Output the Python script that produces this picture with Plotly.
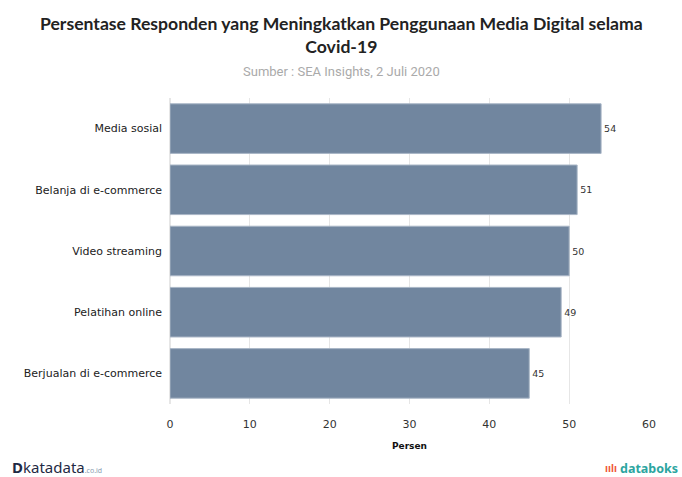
import plotly.graph_objects as go

categories = ["Media sosial", "Belanja di e-commerce", "Video streaming", "Pelatihan online", "Berjualan di e-commerce"]
values = [54, 51, 50, 49, 45]
tick_vals = [0, 10, 20, 30, 40, 50, 60]

fig = go.Figure()
fig.add_trace(go.Bar(
    y=categories, x=values, orientation="h",
    marker=dict(color="#71869f", line=dict(color="#a9b6c6", width=1)),
    text=[str(v) for v in values], textposition="outside",
    textfont=dict(family="DejaVu Sans", size=9.5, color="#333"),
    cliponaxis=False,
))

fig.update_layout(
    width=682, height=477,
    margin=dict(l=170, r=33, t=98, b=73),
    paper_bgcolor="white", plot_bgcolor="white",
    bargap=0.19,
    showlegend=False,
    xaxis=dict(
        range=[0, 60], tickvals=tick_vals, showgrid=True, gridcolor="#e6e6e6", gridwidth=1,
        zeroline=True, zerolinecolor="#e6e6e6",
        tickfont=dict(family="DejaVu Sans", size=11, color="#333"),
        ticks="outside", ticklen=10, tickcolor="rgba(0,0,0,0)",
        title=dict(text="<b>Persen</b>", font=dict(family="DejaVu Sans", size=9, color="#111"), standoff=12),
        automargin=False, fixedrange=True,
    ),
    yaxis=dict(
        autorange="reversed", showgrid=False, ticks="",
        tickfont=dict(family="DejaVu Sans", size=11, color="#222"),
        ticksuffix="  ", automargin=False, fixedrange=True,
    ),
    annotations=[
        dict(text="<b>Persentase Responden yang Meningkatkan Penggunaan Media Digital selama<br>Covid-19</b>",
             xref="paper", yref="paper", x=0.357, y=1.207, xanchor="center", yanchor="middle",
             showarrow=False, align="center",
             font=dict(family="Lato", size=17.6, color="#222")),
        dict(text="Sumber : SEA Insights, 2 Juli 2020", xref="paper", yref="paper", x=0.357, y=1.085,
             xanchor="center", yanchor="middle", showarrow=False,
             font=dict(family="Roboto", size=13, color="#aaaaaa")),
        dict(text="<b>D</b>katadata<span style='font-size:7px;color:#8a9bb0'>.co.id</span>",
             xref="paper", yref="paper", x=-0.334, y=-0.205, xanchor="left", yanchor="middle",
             showarrow=False, font=dict(family="Noto Sans", size=15, color="#1f2a44")),
        dict(text="<b>databoks</b>", xref="paper", yref="paper", x=1.065, y=-0.21,
             xanchor="right", yanchor="middle", showarrow=False,
             font=dict(family="Noto Sans", size=12.5, color="#2ca5a0")),
        dict(text="<b>ıılı</b>", xref="paper", yref="paper", x=0.938, y=-0.21,
             xanchor="right", yanchor="middle", showarrow=False,
             font=dict(family="Noto Sans", size=10, color="#ef5a3c")),
    ],
)

fig.write_html("out.html", config={"displayModeBar": False},
               post_script="document.body.style.margin='0';")
